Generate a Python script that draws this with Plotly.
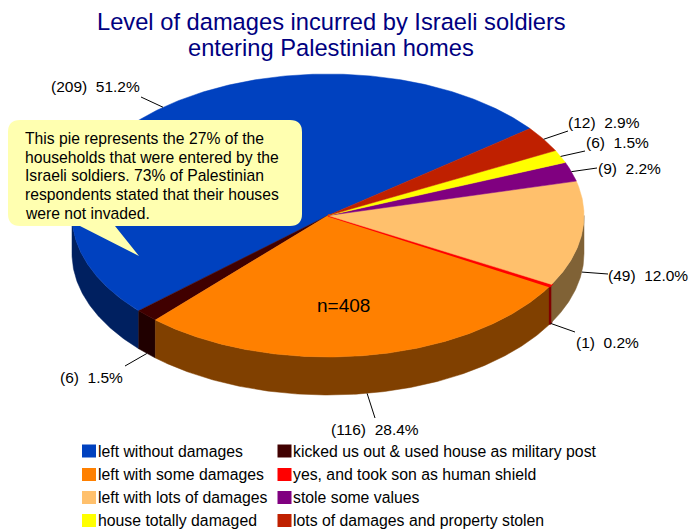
import math
import plotly.graph_objects as go

# ---- data -------------------------------------------------------------
categories = ["left without damages", "kicked us out & used house as military post",
              "left with some damages", "yes, and took son as human shield",
              "left with lots of damages", "stole some values",
              "house totally damaged", "lots of damages and property stolen"]
counts = [209, 6, 116, 1, 49, 9, 6, 12]
percents = ["51.2", "1.5", "28.4", "0.2", "12.0", "2.2", "1.5", "2.9"]
top_colors = ["#0041BF", "#400000", "#FF8000", "#FF0000", "#FFC06C", "#800080", "#FFFF00", "#BF2000"]
side_colors = ["#002060", "#200000", "#804000", "#800000", "#806236", "#400040", "#808000", "#601000"]
title_lines = ["Level of damages incurred by Israeli soldiers", "entering Palestinian homes"]
note_lines = ["This pie represents the 27% of the", "households that were entered by the",
              "Israeli soldiers. 73% of Palestinian", "respondents stated that their houses",
              "were not invaded."]

# ---- pie geometry (pixel scale of the hidden axes) ---------------------
CX, CY, RX, RY, DEPTH = 328, 215.5, 256, 141.5, 38
START = 37.9
leader_end = [(141, 97), (125, 366), (375, 418), (575, 332), (608, 274), (597, 168), (585, 151), (568, 131)]
label_pos = [(49.5, 86), (58.5, 377), (329.5, 429), (574.5, 342), (606.5, 275), (596.5, 168), (584.5, 142), (566.5, 122)]
LABEL_SIZE = 15.5


def ell(a, dy=0):
    r = math.radians(a)
    return CX + RX * math.cos(r), CY - RY * math.sin(r) + dy


def arc(a0, a1, dy=0):
    n = max(2, int(abs(a1 - a0) * 2) + 1)
    return [ell(a0 + (a1 - a0) * i / (n - 1), dy) for i in range(n)]


total = sum(counts)
angles = [START]
for c in counts:
    angles.append(angles[-1] + c / total * 360)

fig = go.Figure()


def poly(pts, color, name, width=0.5):
    fig.add_trace(go.Scatter(x=[p[0] for p in pts] + [pts[0][0]], y=[p[1] for p in pts] + [pts[0][1]],
                             mode="lines", fill="toself", fillcolor=color,
                             line=dict(color=color, width=width), name=name, hoverinfo="name", showlegend=False))


for i, name in enumerate(categories):
    a0, a1 = angles[i], angles[i + 1]
    lo, hi = max(a0, 180), min(a1, 360)
    if hi > lo:
        poly(arc(lo, hi) + arc(hi, lo, DEPTH), side_colors[i], name, 1.5 if counts[i] == 1 else 0.5)

for i, name in enumerate(categories):
    poly([(CX, CY)] + arc(angles[i], angles[i + 1]), top_colors[i], name, 2 if counts[i] == 1 else 0.5)

for i in range(len(counts)):
    mid = (angles[i] + angles[i + 1]) / 2 % 360
    x0, y0 = ell(mid, DEPTH if mid > 180 else 0)
    x1, y1 = leader_end[i]
    fig.add_trace(go.Scatter(x=[x0, x1], y=[y0, y1], mode="lines", line=dict(color="#000000", width=1),
                             hoverinfo="skip", showlegend=False))

annotations = []


def text(x, y, s, size, color="#000000", xanchor="left", align="left"):
    annotations.append(dict(x=x, y=y, xref="x", yref="y", text=s, showarrow=False, xanchor=xanchor,
                            yanchor="middle", align=align, borderpad=0,
                            font=dict(family="Liberation Sans", size=size, color=color)))


for i in range(len(counts)):
    lx, ly = label_pos[i]
    text(lx, ly, f"({counts[i]})\u00a0\u00a0{percents[i]}%", LABEL_SIZE)

title_y = [22, 48]
for s, y in zip(title_lines, title_y):
    text(331, y, s, 23.7, "#000080", "center", "center")
note_y = [138, 157, 175.5, 194, 213]
for s, y in zip(note_lines, note_y):
    text(24, y, s, 15.7)
text(343, 305, "n=408", 19, xanchor="center")

shapes = []
x0, x1, y0, y1, r = 8, 302, 120, 226, 12
shapes.append(dict(type="path", xref="x", yref="y", fillcolor="#FFFFB0", line=dict(width=0),
                   path=(f"M{x0+r},{y0} L{x1-r},{y0} Q{x1},{y0} {x1},{y0+r} L{x1},{y1-r} Q{x1},{y1} {x1-r},{y1} "
                         f"L115,{y1} L139,256 L80,{y1} L{x0+r},{y1} Q{x0},{y1} {x0},{y1-r} L{x0},{y0+r} Q{x0},{y0} {x0+r},{y0} Z")))

col_x = [82, 277.5]
row_y = [451, 474.5, 497.5, 520.5]
for i, name in enumerate(categories):
    cx = col_x[i % 2]
    cy = row_y[i // 2]
    shapes.append(dict(type="rect", xref="x", yref="y", x0=cx, x1=cx + 14, y0=cy - 6.5, y1=cy + 6.5,
                       fillcolor=top_colors[i], line=dict(width=0)))
    text(cx + 14.5, cy, name, 15.8)

fig.update_layout(width=690, height=529, margin=dict(l=0, r=0, t=0, b=0), plot_bgcolor="#FFFFFF",
                  paper_bgcolor="#FFFFFF", showlegend=False, annotations=annotations, shapes=shapes,
                  xaxis=dict(range=[0, 690], visible=False, fixedrange=True),
                  yaxis=dict(range=[529, 0], visible=False, fixedrange=True))
fig.write_html("out.html", config={"displayModeBar": False},
               post_script="document.body.style.margin='0';document.documentElement.style.overflow='hidden';")
